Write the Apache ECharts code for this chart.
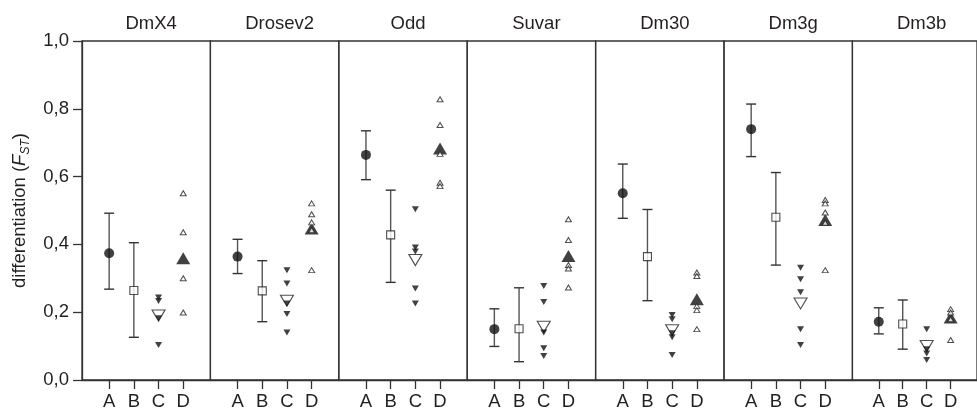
<!DOCTYPE html>
<html>
<head>
<meta charset="utf-8">
<script src="https://cdn.jsdelivr.net/npm/echarts@6/dist/echarts.min.js"></script>
<style>
html,body{margin:0;padding:0;background:#fff;}
#chart{width:977px;height:411px;}
</style>
</head>
<body>
<div id="chart"></div>
<script>
const panels = ['DmX4','Drosev2','Odd','Suvar','Dm30','Dm3g','Dm3b'];
const groups = ['A','B','C','D'];
const yTicks = [0, 0.2, 0.4, 0.6, 0.8, 1.0];

const aMean = [0.374,0.364,0.664,0.150,0.551,0.740,0.172];
const aLow  = [0.268,0.314,0.591,0.099,0.477,0.659,0.136];
const aHigh = [0.492,0.415,0.735,0.210,0.637,0.814,0.213];

const bMean = [0.264,0.263,0.428,0.151,0.364,0.480,0.165];
const bLow  = [0.126,0.172,0.288,0.054,0.234,0.339,0.091];
const bHigh = [0.405,0.352,0.560,0.272,0.503,0.612,0.236];

const cMean = [0.190,0.234,0.354,0.157,0.147,0.226,0.100];
const cPoints = [
  [0.243,0.233,0.182,0.103],
  [0.324,0.285,0.226,0.195,0.140],
  [0.504,0.391,0.379,0.270,0.226],
  [0.277,0.230,0.140,0.094,0.071],
  [0.192,0.179,0.138,0.126,0.074],
  [0.331,0.297,0.259,0.150,0.103],
  [0.150,0.091,0.078,0.059]
];

const dMean = [0.359,0.447,0.683,0.366,0.238,0.472,0.184];
const dPoints = [
  [0.551,0.436,0.300,0.199],
  [0.521,0.489,0.465,0.442,0.324],
  [0.828,0.752,0.667,0.582,0.572],
  [0.474,0.413,0.339,0.329,0.273],
  [0.317,0.307,0.218,0.206,0.150],
  [0.531,0.521,0.494,0.464,0.324],
  [0.209,0.199,0.179,0.118]
];

const FONT = '"Liberation Sans", Arial, sans-serif';
const FS = 18.5;
const TXT = '#231f20';
const LINE = '#333';
const gridLeft = 82, gridTop = 41, gridW = 128.4, gridH = 339;

const chart = echarts.init(document.getElementById('chart'), null, {renderer:'canvas'});

const grid = [], xAxis = [], yAxis = [], title = [], series = [];
panels.forEach((name, i) => {
  const left = gridLeft + i * gridW;
  grid.push({left: left, top: gridTop, width: gridW, height: gridH,
    show: true, borderColor: LINE, borderWidth: 1.3, backgroundColor: 'transparent'});
  title.push({text: name, left: left + gridW / 2, top: 9, textAlign: 'center',
    textStyle: {fontFamily: FONT, fontSize: FS, fontWeight: 'normal', color: TXT}});
  xAxis.push({type: 'value', gridIndex: i, min: -1.1, max: 4.1,
    axisLine: {show: true, onZero: false, lineStyle: {color: LINE, width: 1.3}},
    axisTick: {show: true, customValues: [0,1,2,3], length: 9, lineStyle: {color: LINE, width: 1.3}},
    axisLabel: {show: true, customValues: [0,1,2,3], margin: 12,
      formatter: v => groups[Math.round(v)] || '',
      fontFamily: FONT, fontSize: FS, color: TXT},
    splitLine: {show: false}});
  const first = i === 0;
  yAxis.push({type: 'value', gridIndex: i, min: 0, max: 1, interval: 0.2,
    axisLine: {show: first, onZero: false, lineStyle: {color: LINE, width: 1.3}},
    axisTick: {show: first, length: 9, lineStyle: {color: LINE, width: 1.3}},
    axisLabel: {show: first, margin: 13, fontFamily: FONT, fontSize: FS, color: TXT,
      formatter: v => v.toFixed(1).replace('.', ',')},
    splitLine: {show: false},
    name: first ? '{n|differentiation (}{i|F}{s|ST}{n|)}' : '',
    nameLocation: 'middle', nameRotate: 90, nameGap: 50,
    nameTextStyle: {fontFamily: FONT, fontSize: FS, color: TXT,
      rich: {
        n: {fontFamily: FONT, fontSize: FS, color: TXT, lineHeight: 24, verticalAlign: 'middle'},
        i: {fontFamily: FONT, fontSize: FS, color: TXT, fontStyle: 'italic', lineHeight: 24, verticalAlign: 'middle'},
        s: {fontFamily: FONT, fontSize: 12, color: TXT, fontStyle: 'italic', lineHeight: 13, verticalAlign: 'bottom'}
      }}});

  // error bars for groups A and B
  series.push({type: 'custom', xAxisIndex: i, yAxisIndex: i, z: 2,
    encode: {x: 0, y: [1, 2]},
    data: [[0, aLow[i], aHigh[i]], [1, bLow[i], bHigh[i]]],
    renderItem: (params, api) => {
      const x = api.value(0);
      const pLo = api.coord([x, api.value(1)]);
      const pHi = api.coord([x, api.value(2)]);
      const cap = 5;
      const st = {stroke: '#555', lineWidth: 1.4};
      const cs = {stroke: '#333', lineWidth: 1.4};
      return {type: 'group', children: [
        {type: 'line', shape: {x1: pLo[0], y1: pLo[1], x2: pHi[0], y2: pHi[1]}, style: st},
        {type: 'line', shape: {x1: pHi[0]-cap, y1: pHi[1], x2: pHi[0]+cap, y2: pHi[1]}, style: cs},
        {type: 'line', shape: {x1: pLo[0]-cap, y1: pLo[1], x2: pLo[0]+cap, y2: pLo[1]}, style: cs}
      ]};
    }});
  // A mean: filled circle
  series.push({type: 'scatter', xAxisIndex: i, yAxisIndex: i, z: 3,
    symbol: 'circle', symbolSize: 10, itemStyle: {color: '#111'},
    data: [[0, aMean[i]]]});
  // B mean: open square
  series.push({type: 'scatter', xAxisIndex: i, yAxisIndex: i, z: 3,
    symbol: 'rect', symbolSize: 8, itemStyle: {color: '#fff', borderColor: '#222', borderWidth: 1.1},
    data: [[1, bMean[i]]]});
  // C mean: large open down triangle
  series.push({type: 'scatter', xAxisIndex: i, yAxisIndex: i, z: 3,
    symbol: 'triangle', symbolRotate: 180, symbolSize: [13, 11],
    itemStyle: {color: '#fff', borderColor: '#222', borderWidth: 1.1},
    data: [[2, cMean[i]]]});
  // C points: small filled down triangles
  series.push({type: 'scatter', xAxisIndex: i, yAxisIndex: i, z: 4,
    symbol: 'triangle', symbolRotate: 180, symbolSize: [7, 6],
    itemStyle: {color: '#111'},
    data: cPoints[i].map(v => [2, v])});
  // D mean: large filled up triangle
  series.push({type: 'scatter', xAxisIndex: i, yAxisIndex: i, z: 3,
    symbol: 'triangle', symbolSize: [14, 12], itemStyle: {color: '#111'},
    data: [[3, dMean[i]]]});
  // D points: small open up triangles
  series.push({type: 'scatter', xAxisIndex: i, yAxisIndex: i, z: 4,
    symbol: 'triangle', symbolSize: [6, 5],
    itemStyle: {color: '#fff', borderColor: '#222', borderWidth: 1},
    data: dPoints[i].map(v => [3, v])});
});

chart.setOption({
  animation: false,
  backgroundColor: '#fff',
  title: title,
  grid: grid,
  xAxis: xAxis,
  yAxis: yAxis,
  series: series
});
</script>
</body>
</html>
